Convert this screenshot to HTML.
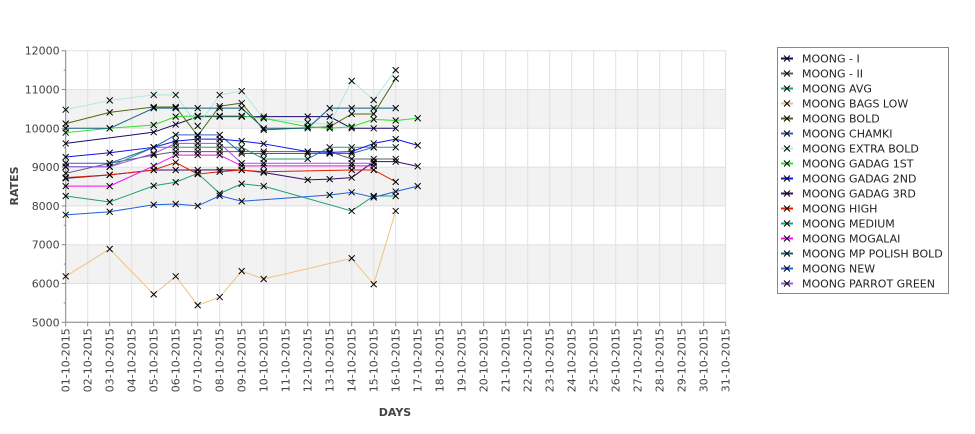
<!DOCTYPE html>
<html><head><meta charset="utf-8"><style>
body{margin:0;background:#fff;font-family:"Liberation Sans","DejaVu Sans",sans-serif;}
svg text{font-family:"DejaVu Sans","Liberation Sans",sans-serif;}
</style></head><body>
<svg id="c" width="975" height="429" xmlns="http://www.w3.org/2000/svg"></svg>
<script>
const days=[1,3,5,6,7,8,9,10,12,13,14,15,16,17];
const seriesNames=["MOONG - I","MOONG - II","MOONG AVG","MOONG BAGS LOW","MOONG BOLD","MOONG CHAMKI","MOONG EXTRA BOLD","MOONG GADAG 1ST","MOONG GADAG 2ND","MOONG GADAG 3RD","MOONG HIGH","MOONG MEDIUM","MOONG MOGALAI","MOONG MP POLISH BOLD","MOONG NEW","MOONG PARROT GREEN"];
const colors=["#1a0a6e","#5a5a70","#2a9a7a","#f0c080","#4a6a10","#3060c0","#b0e8e0","#30e030","#1010f0","#3a0a70","#e02000","#20a070","#f010f0","#106080","#2060e0","#a050f0"];
const sMoong1=[9610,null,9900,10100,10300,10300,10300,10300,10300,10300,10000,10000,10000,null];
const sMoong2=[8840,9100,9310,9400,9400,9400,9400,9400,9400,9400,9210,9210,9210,null];
const sAvg=[9010,9010,9510,9510,9510,9510,9510,9210,9210,9510,9510,9510,9510,null];
const sBagsLow=[6185,6890,5720,6185,5440,5650,6320,6115,null,null,6650,5980,7870,null];
const sBold=[10120,10410,10550,10550,9810,10570,10650,9960,null,10040,10370,10370,11280,null];
const sChamki=[9100,9100,9510,9830,9830,9830,9350,9350,9350,9350,9350,9510,null,null];
const sExtraBold=[10480,10720,10860,10860,10060,10860,10960,10260,10150,10100,11220,10730,11500,null];
const sGadag1=[9890,10000,10085,10300,10320,10320,10320,10260,10040,10000,10040,10230,10200,10260];
const sGadag2=[9260,9370,9510,9670,9720,9720,9670,9600,9400,9380,9400,9610,9720,9560];
const sGadag3=[8710,8800,8925,8925,8925,8930,8925,8860,8670,8690,8730,9140,9140,9020];
const sHigh=[8730,8800,8925,9120,8820,8880,8925,8880,null,null,8925,8925,8620,null];
const sMedium=[8255,8100,8520,8610,8840,8320,8570,8510,null,null,7870,8255,8255,null];
const sMogalai=[8510,8510,9030,9310,9310,9310,9030,9030,null,null,9030,9030,null,null];
const sMpPolish=[10000,10000,10520,10520,10520,10520,10520,10000,10000,10520,10520,10520,10520,null];
const sNew=[7770,7850,8030,8050,8000,8260,8120,null,null,8280,8350,8220,8370,8510];
const sParrot=[9010,9010,9350,9610,9610,9610,9100,9100,null,null,9100,9100,null,null];
const allSeries=[sMoong1,sMoong2,sAvg,sBagsLow,sBold,sChamki,sExtraBold,sGadag1,sGadag2,sGadag3,sHigh,sMedium,sMogalai,sMpPolish,sNew,sParrot];
const yTicks=[5000,6000,7000,8000,9000,10000,11000,12000];
const X0=65.7,DX=22,Y0=322.3,YTOP=50.7,YMIN=5000,YMAX=12000;
const xs=d=>X0+DX*(d-1);
const ys=v=>Y0-(v-YMIN)/(YMAX-YMIN)*(Y0-YTOP);
const NS="http://www.w3.org/2000/svg";
const svg=document.getElementById('c');
function mk(t,a,p){const e=document.createElementNS(NS,t);for(const k in a)e.setAttribute(k,a[k]);(p||svg).appendChild(e);return e;}
// bands
for(let v=6000;v<12000;v+=2000){const b=mk('rect',{x:X0,y:ys(v+1000),width:xs(31)-X0,height:ys(v)-ys(v+1000),fill:'#f2f2f2'});

}
for(let d=1;d<=31;d++){const g=mk('line',{x1:xs(d),x2:xs(d),y1:YTOP,y2:Y0,stroke:'#e0e0e0'});


const t=mk('line',{x1:xs(d),x2:xs(d),y1:Y0,y2:Y0+4,stroke:'#888'});
const lbl=mk('text',{x:0,y:0,'font-size':11,fill:'#444','text-anchor':'end',transform:`translate(${xs(d)+4},${Y0+6}) rotate(-90)`});
lbl.textContent=String(d).padStart(2,'0')+'-10-2015';

}
yTicks.forEach(v=>{const g=mk('line',{x1:X0,x2:xs(31),y1:ys(v),y2:ys(v),stroke:'#e0e0e0'});


mk('line',{x1:X0-4,x2:X0,y1:ys(v),y2:ys(v),stroke:'#888'});
if(v<12000)mk('line',{x1:X0-2,x2:X0,y1:ys(v+500),y2:ys(v+500),stroke:'#888'});
const t=mk('text',{x:X0-6,y:ys(v)+4,'font-size':11,fill:'#444','text-anchor':'end'});t.textContent=v;

});
mk('line',{x1:X0,x2:X0,y1:YTOP,y2:Y0,stroke:'#888'});
mk('line',{x1:X0,x2:xs(31),y1:Y0,y2:Y0,stroke:'#888'});
const yt=mk('text',{x:0,y:0,'font-size':11,'font-weight':'bold',fill:'#444','text-anchor':'middle',transform:'translate(18,186) rotate(-90)'});yt.textContent='RATES';


const xt=mk('text',{x:395,y:416,'font-size':11,'font-weight':'bold',fill:'#444','text-anchor':'middle'});xt.textContent='DAYS';


function cross(x,y,p){mk('path',{d:`M${x-3},${y-3}L${x+3},${y+3}M${x-3},${y+3}L${x+3},${y-3}`,stroke:'#000','stroke-width':1},p);}
allSeries.forEach((s,i)=>{const g=mk('g',{});


let pts=[];s.forEach((v,j)=>{if(v!=null)pts.push([xs(days[j]),ys(v)]);});
const l=mk('polyline',{points:pts.map(p=>p.join(',')).join(' '),fill:'none',stroke:colors[i],'stroke-width':1},g);
pts.forEach(p=>cross(p[0],p[1],g));});
// legend
const lg=mk('g',{});


mk('rect',{x:777.5,y:47.5,width:171,height:246,fill:'#fff',stroke:'#888'},lg);
seriesNames.forEach((n,i)=>{const y=58.5+15*i;const e=mk('g',{},lg);


mk('line',{x1:781,x2:793,y1:y,y2:y,stroke:colors[i],'stroke-width':2},e);
cross(787,y,e);
const t=mk('text',{x:802,y:y+4,'font-size':11,fill:'#222'},e);t.textContent=n;});
</script>
</body></html>
